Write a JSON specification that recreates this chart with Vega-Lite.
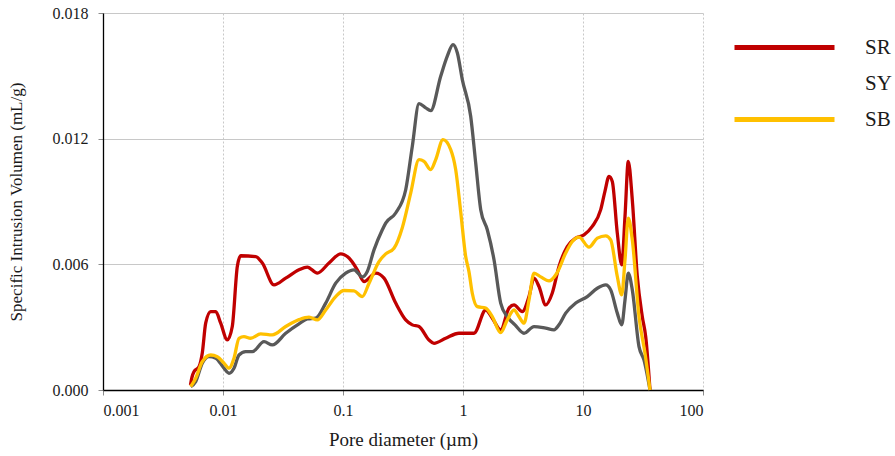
{
  "$schema": "https://vega.github.io/schema/vega-lite/v6.json",
  "width": 600,
  "height": 377,
  "padding": {"left": 7, "top": 5, "right": 5, "bottom": 5},
  "background": "white",
  "config": {
    "view": {"stroke": null},
    "font": "Liberation Serif, DejaVu Serif, serif"
  },
  "data": {"values": [
    {"s":"SR","d":0.00536,"v":0.00024},{"s":"SR","d":0.00552,"v":0.00062},{"s":"SR","d":0.00573,"v":0.00087},{"s":"SR","d":0.00631,"v":0.00111},{"s":"SR","d":0.00672,"v":0.00177},{"s":"SR","d":0.00718,"v":0.0032},{"s":"SR","d":0.0079,"v":0.00374},{"s":"SR","d":0.0087,"v":0.00374},{"s":"SR","d":0.00957,"v":0.00319},{"s":"SR","d":0.01086,"v":0.00239},{"s":"SR","d":0.01195,"v":0.00303},{"s":"SR","d":0.01316,"v":0.0059},{"s":"SR","d":0.01405,"v":0.00641},{"s":"SR","d":0.01874,"v":0.00637},{"s":"SR","d":0.02127,"v":0.00606},{"s":"SR","d":0.02661,"v":0.00502},{"s":"SR","d":0.03331,"v":0.00534},{"s":"SR","d":0.04299,"v":0.00574},{"s":"SR","d":0.05041,"v":0.00587},{"s":"SR","d":0.06106,"v":0.00558},{"s":"SR","d":0.07645,"v":0.00606},{"s":"SR","d":0.09568,"v":0.0065},{"s":"SR","d":0.1122,"v":0.0063},{"s":"SR","d":0.1316,"v":0.00574},{"s":"SR","d":0.1496,"v":0.00518},{"s":"SR","d":0.1874,"v":0.00558},{"s":"SR","d":0.2197,"v":0.00534},{"s":"SR","d":0.2749,"v":0.00415},{"s":"SR","d":0.3331,"v":0.00335},{"s":"SR","d":0.3779,"v":0.00311},{"s":"SR","d":0.4299,"v":0.00303},{"s":"SR","d":0.5208,"v":0.00239},{"s":"SR","d":0.5733,"v":0.00223},{"s":"SR","d":0.7175,"v":0.00247},{"s":"SR","d":0.9261,"v":0.00271},{"s":"SR","d":1.235,"v":0.00271},{"s":"SR","d":1.546,"v":0.00382},{"s":"SR","d":1.754,"v":0.00343},{"s":"SR","d":2.061,"v":0.00287},{"s":"SR","d":2.417,"v":0.00391},{"s":"SR","d":2.661,"v":0.00406},{"s":"SR","d":3.12,"v":0.00374},{"s":"SR","d":3.548,"v":0.00446},{"s":"SR","d":3.905,"v":0.00534},{"s":"SR","d":4.299,"v":0.00494},{"s":"SR","d":4.889,"v":0.00406},{"s":"SR","d":5.548,"v":0.00463},{"s":"SR","d":6.31,"v":0.0059},{"s":"SR","d":7.399,"v":0.00685},{"s":"SR","d":8.695,"v":0.00725},{"s":"SR","d":10.19,"v":0.00741},{"s":"SR","d":11.95,"v":0.00781},{"s":"SR","d":14.05,"v":0.00861},{"s":"SR","d":15.25,"v":0.0095},{"s":"SR","d":16.48,"v":0.0102},{"s":"SR","d":17.54,"v":0.00996},{"s":"SR","d":19.31,"v":0.00749},{"s":"SR","d":21.02,"v":0.00598},{"s":"SR","d":22.39,"v":0.00829},{"s":"SR","d":23.85,"v":0.01092},{"s":"SR","d":25.75,"v":0.00908},{"s":"SR","d":28.35,"v":0.00542},{"s":"SR","d":31.2,"v":0.0035},{"s":"SR","d":33.31,"v":0.00255},{"s":"SR","d":36.17,"v":0},
    {"s":"SY","d":0.00538,"v":0.00016},{"s":"SY","d":0.00592,"v":0.0004},{"s":"SY","d":0.00672,"v":0.00128},{"s":"SY","d":0.00764,"v":0.00159},{"s":"SY","d":0.0087,"v":0.00152},{"s":"SY","d":0.01019,"v":0.00104},{"s":"SY","d":0.01122,"v":0.0008},{"s":"SY","d":0.01235,"v":0.00104},{"s":"SY","d":0.01359,"v":0.00167},{"s":"SY","d":0.01546,"v":0.00183},{"s":"SY","d":0.01754,"v":0.00183},{"s":"SY","d":0.02197,"v":0.00231},{"s":"SY","d":0.02575,"v":0.00215},{"s":"SY","d":0.03331,"v":0.00271},{"s":"SY","d":0.04299,"v":0.00316},{"s":"SY","d":0.05041,"v":0.00339},{"s":"SY","d":0.05923,"v":0.00343},{"s":"SY","d":0.07175,"v":0.00415},{"s":"SY","d":0.08695,"v":0.0051},{"s":"SY","d":0.1053,"v":0.00558},{"s":"SY","d":0.1235,"v":0.00574},{"s":"SY","d":0.1448,"v":0.0054},{"s":"SY","d":0.1594,"v":0.00566},{"s":"SY","d":0.1813,"v":0.00669},{"s":"SY","d":0.2127,"v":0.00765},{"s":"SY","d":0.2269,"v":0.00797},{"s":"SY","d":0.2749,"v":0.00845},{"s":"SY","d":0.3331,"v":0.00956},{"s":"SY","d":0.3779,"v":0.01163},{"s":"SY","d":0.4299,"v":0.01367},{"s":"SY","d":0.4889,"v":0.01347},{"s":"SY","d":0.5381,"v":0.01334},{"s":"SY","d":0.6519,"v":0.01498},{"s":"SY","d":0.7399,"v":0.01594},{"s":"SY","d":0.8254,"v":0.01649},{"s":"SY","d":0.8964,"v":0.0161},{"s":"SY","d":0.9867,"v":0.01482},{"s":"SY","d":1.159,"v":0.01307},{"s":"SY","d":1.276,"v":0.01084},{"s":"SY","d":1.405,"v":0.00861},{"s":"SY","d":1.594,"v":0.00765},{"s":"SY","d":1.813,"v":0.00622},{"s":"SY","d":2.061,"v":0.00415},{"s":"SY","d":2.34,"v":0.0035},{"s":"SY","d":2.712,"v":0.00311},{"s":"SY","d":3.224,"v":0.00271},{"s":"SY","d":3.905,"v":0.00303},{"s":"SY","d":4.889,"v":0.00295},{"s":"SY","d":5.733,"v":0.00287},{"s":"SY","d":6.31,"v":0.00311},{"s":"SY","d":7.175,"v":0.00367},{"s":"SY","d":8.695,"v":0.00415},{"s":"SY","d":10.86,"v":0.00446},{"s":"SY","d":13.16,"v":0.00486},{"s":"SY","d":15.46,"v":0.00502},{"s":"SY","d":17.01,"v":0.00478},{"s":"SY","d":19.31,"v":0.00367},{"s":"SY","d":21.02,"v":0.00311},{"s":"SY","d":22.39,"v":0.0043},{"s":"SY","d":23.85,"v":0.00558},{"s":"SY","d":25.75,"v":0.00478},{"s":"SY","d":29.29,"v":0.00207},{"s":"SY","d":32.24,"v":0.00143},{"s":"SY","d":36.17,"v":0},
    {"s":"SB","d":0.00538,"v":0.00016},{"s":"SB","d":0.00592,"v":0.00056},{"s":"SB","d":0.00672,"v":0.00135},{"s":"SB","d":0.0079,"v":0.00167},{"s":"SB","d":0.00896,"v":0.00159},{"s":"SB","d":0.01019,"v":0.00128},{"s":"SB","d":0.01122,"v":0.00104},{"s":"SB","d":0.01235,"v":0.00152},{"s":"SB","d":0.01359,"v":0.00247},{"s":"SB","d":0.01496,"v":0.00255},{"s":"SB","d":0.01701,"v":0.00247},{"s":"SB","d":0.02061,"v":0.00268},{"s":"SB","d":0.02575,"v":0.00263},{"s":"SB","d":0.03331,"v":0.00303},{"s":"SB","d":0.04299,"v":0.00336},{"s":"SB","d":0.05208,"v":0.00348},{"s":"SB","d":0.06106,"v":0.00335},{"s":"SB","d":0.07175,"v":0.00382},{"s":"SB","d":0.08695,"v":0.00446},{"s":"SB","d":0.1019,"v":0.00475},{"s":"SB","d":0.1235,"v":0.00473},{"s":"SB","d":0.1448,"v":0.00446},{"s":"SB","d":0.1648,"v":0.0051},{"s":"SB","d":0.1995,"v":0.00613},{"s":"SB","d":0.2269,"v":0.0065},{"s":"SB","d":0.2661,"v":0.00677},{"s":"SB","d":0.312,"v":0.00775},{"s":"SB","d":0.3666,"v":0.0094},{"s":"SB","d":0.4299,"v":0.011},{"s":"SB","d":0.4732,"v":0.01092},{"s":"SB","d":0.5381,"v":0.01052},{"s":"SB","d":0.5923,"v":0.011},{"s":"SB","d":0.6813,"v":0.01195},{"s":"SB","d":0.7898,"v":0.01148},{"s":"SB","d":0.8695,"v":0.01052},{"s":"SB","d":0.9568,"v":0.00851},{"s":"SB","d":1.053,"v":0.00637},{"s":"SB","d":1.122,"v":0.00564},{"s":"SB","d":1.195,"v":0.00462},{"s":"SB","d":1.316,"v":0.00398},{"s":"SB","d":1.546,"v":0.00391},{"s":"SB","d":1.754,"v":0.0035},{"s":"SB","d":2.061,"v":0.00274},{"s":"SB","d":2.34,"v":0.00335},{"s":"SB","d":2.661,"v":0.00382},{"s":"SB","d":2.929,"v":0.0035},{"s":"SB","d":3.224,"v":0.00319},{"s":"SB","d":3.548,"v":0.0043},{"s":"SB","d":3.905,"v":0.00558},{"s":"SB","d":4.442,"v":0.0054},{"s":"SB","d":5.208,"v":0.00521},{"s":"SB","d":6.014,"v":0.00555},{"s":"SB","d":7.175,"v":0.00654},{"s":"SB","d":8.143,"v":0.00709},{"s":"SB","d":9.261,"v":0.0073},{"s":"SB","d":11.22,"v":0.00682},{"s":"SB","d":13.16,"v":0.00725},{"s":"SB","d":15.46,"v":0.00736},{"s":"SB","d":17.01,"v":0.00717},{"s":"SB","d":19.31,"v":0.00542},{"s":"SB","d":21.02,"v":0.00454},{"s":"SB","d":22.39,"v":0.00622},{"s":"SB","d":23.85,"v":0.00821},{"s":"SB","d":25.75,"v":0.00717},{"s":"SB","d":29.29,"v":0.0035},{"s":"SB","d":32.86,"v":0.00175},{"s":"SB","d":36.17,"v":0}
  ]},
  "encoding": {
    "x": {
      "field": "d", "type": "quantitative",
      "scale": {"type": "log", "domain": [0.001, 100], "nice": false},
      "axis": {
        "title": "Pore diameter (µm)",
        "values": [0.001, 0.01, 0.1, 1, 10, 100],
        "format": "~g",
        "grid": true, "gridColor": "#c8c8c8", "gridDash": [2, 2], "gridWidth": 1,
        "domainColor": "#000000", "domainWidth": 1.3,
        "tickColor": "#8c8c8c", "tickSize": 5,
        "labelFont": "Liberation Serif, DejaVu Serif, serif", "labelFontSize": 16, "labelColor": "#1a1a1a", "labelPadding": 7,
        "titleFont": "Liberation Serif, DejaVu Serif, serif", "titleFontSize": 19, "titleFontWeight": "normal", "titleColor": "#1a1a1a", "titlePadding": 12
      }
    },
    "y": {
      "field": "v", "type": "quantitative",
      "scale": {"domain": [0, 0.018], "nice": false},
      "axis": {
        "title": "Specific Intrusion Volumen (mL/g)",
        "values": [0, 0.006, 0.012, 0.018],
        "format": ".3f",
        "grid": true, "gridColor": "#c8c8c8", "gridWidth": 1,
        "domainColor": "#000000", "domainWidth": 1.3,
        "tickColor": "#8c8c8c", "tickSize": 5,
        "labelFont": "Liberation Serif, DejaVu Serif, serif", "labelFontSize": 16, "labelColor": "#1a1a1a", "labelPadding": 10,
        "titleFont": "Liberation Serif, DejaVu Serif, serif", "titleFontSize": 17, "titleFontWeight": "normal", "titleColor": "#1a1a1a", "titlePadding": 27
      }
    }
  },
  "layer": [
    {
      "transform": [{"filter": "datum.s === 'SR'"}],
      "mark": {"type": "line", "interpolate": "monotone", "strokeWidth": 3.3},
      "encoding": {
        "color": {
          "field": "s", "type": "nominal",
          "scale": {"domain": ["SR", "SY", "SB"], "range": ["#c00000", "#ffffff", "#ffc000"]},
          "legend": {
            "title": null,
            "orient": "right",
            "offset": 47,
            "padding": 22,
            "symbolType": "M-5,0H5",
            "symbolSize": 400,
            "symbolStrokeWidth": 5,
            "labelFont": "Liberation Serif, DejaVu Serif, serif", "labelFontSize": 21, "labelColor": "#1a1a1a",
            "labelOffset": 68,
            "rowPadding": 13
          }
        }
      }
    },
    {
      "transform": [{"filter": "datum.s === 'SY'"}],
      "mark": {"type": "line", "interpolate": "monotone", "strokeWidth": 3.3, "color": "#595959"},
      "encoding": {}
    },
    {
      "transform": [{"filter": "datum.s === 'SB'"}],
      "mark": {"type": "line", "interpolate": "monotone", "strokeWidth": 3.3},
      "encoding": {
        "color": {"field": "s", "type": "nominal"}
      }
    }
  ]
}
